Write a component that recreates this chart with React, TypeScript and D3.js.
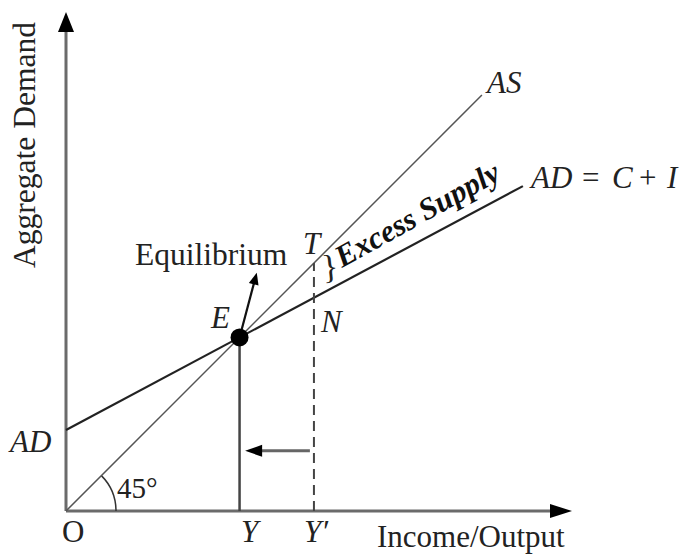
import React from 'react';
import * as d3 from 'd3';

// data in model units (same scale on both axes so AS is the 45 degree line)
const asLine: [number, number][] = [[0, 0], [8.22, 8.22]];
const adLine: [number, number][] = [[0, 1.6], [9.03, 6.42]];
const equilibrium: [number, number] = [3.43, 3.43];
const eqArrowTip: [number, number] = [3.77, 4.71];
const yPrime = 4.9;
const tPoint: [number, number] = [4.9, 4.9];
const shiftArrow: [number, number][] = [[4.82, 1.19], [3.54, 1.19]];
const axisMax = { x: 10, y: 9.86 };

const W = 687;
const H = 554;
const serif = '"Liberation Serif", "Times New Roman", serif';

const x = d3.scaleLinear().domain([0, 10]).range([66, 572]);
const y = d3.scaleLinear().domain([0, 10]).range([511, 5]);

const line = d3.line<[number, number]>().x(d => x(d[0])).y(d => y(d[1]));

// triangle arrowhead with tip at (px,py) pointing along angle a
const head = (px: number, py: number, a: number, len: number, half: number) => {
  const bx = px - len * Math.cos(a);
  const by = py - len * Math.sin(a);
  const nx = -Math.sin(a) * half;
  const ny = Math.cos(a) * half;
  return `${px},${py} ${bx + nx},${by + ny} ${bx - nx},${by - ny}`;
};

const App = () => {
  const [ex, ey] = [x(equilibrium[0]), y(equilibrium[1])];
  const [tx, ty] = [x(eqArrowTip[0]), y(eqArrowTip[1])];
  const ang = Math.atan2(ty - ey, tx - ex);

  const arcPath = d3.path();
  arcPath.arc(x(0), y(0), 50, 0, -Math.PI / 4, true);

  const adAngle = (Math.atan2(y(adLine[1][1]) - y(adLine[0][1]), x(adLine[1][0]) - x(adLine[0][0])) * 180) / Math.PI;

  return (
    <svg width={W} height={H} style={{ position: 'absolute', left: 0, top: 0, background: '#fff' }}
      fontFamily={serif}>
      {/* axes */}
      <line x1={x(0)} y1={y(0)} x2={x(axisMax.x) - 18} y2={y(0)} stroke="#6b6b6b" strokeWidth={3} />
      <line x1={x(0)} y1={y(0)} x2={x(0)} y2={y(axisMax.y) + 16} stroke="#6b6b6b" strokeWidth={3} />
      <polygon points={head(x(axisMax.x), y(0), 0, 22, 7)} fill="#000" />
      <polygon points={head(x(0), y(axisMax.y), -Math.PI / 2, 20, 8)} fill="#000" />

      {/* 45 degree arc */}
      <path d={arcPath.toString()} fill="none" stroke="#333" strokeWidth={1.5} />

      {/* AS and AD */}
      <path d={line(asLine) as string} fill="none" stroke="#555" strokeWidth={1.5} />
      <path d={line(adLine) as string} fill="none" stroke="#222" strokeWidth={2.2} />

      {/* Y and Y' */}
      <line x1={ex} y1={ey} x2={ex} y2={y(0)} stroke="#444" strokeWidth={2.5} />
      <line x1={x(yPrime)} y1={y(0)} x2={x(tPoint[0])} y2={y(tPoint[1])} stroke="#444" strokeWidth={2}
        strokeDasharray="10,6" />

      {/* shift arrow */}
      <line x1={x(shiftArrow[0][0])} y1={y(shiftArrow[0][1])} x2={x(shiftArrow[1][0]) + 14} y2={y(shiftArrow[1][1])}
        stroke="#666" strokeWidth={3} />
      <polygon points={head(x(shiftArrow[1][0]), y(shiftArrow[1][1]), Math.PI, 17, 6)} fill="#000" />

      {/* equilibrium arrow */}
      <line x1={ex} y1={ey} x2={tx - 8 * Math.cos(ang)} y2={ty - 8 * Math.sin(ang)} stroke="#111" strokeWidth={2.2} />
      <polygon points={head(tx, ty, ang, 12, 5)} fill="#000" />
      <circle cx={ex} cy={ey} r={9} fill="#000" />

      {/* labels */}
      <text transform="translate(35,145) rotate(-90)" textAnchor="middle" fontSize={31.5} fill="#222">Aggregate Demand</text>
      <text x={377} y={547} fontSize={31} fill="#222">Income/Output</text>
      <text x={62} y={542} fontSize={31} fill="#222">O</text>
      <text x={241} y={542} fontSize={31} fontStyle="italic" fill="#222">Y</text>
      <text x={304} y={542} fontSize={31} fontStyle="italic" fill="#222">Y′</text>
      <text x={10} y={452} fontSize={31} fontStyle="italic" fill="#222">AD</text>
      <text x={117} y={498} fontSize={29} fill="#222">45°</text>
      <text x={135} y={265} fontSize={31.5} fill="#222">Equilibrium</text>
      <text x={211} y={328} fontSize={31} fontStyle="italic" fill="#222">E</text>
      <text x={303} y={254} fontSize={31} fontStyle="italic" fill="#222">T</text>
      <text x={321} y={332} fontSize={31} fontStyle="italic" fill="#222">N</text>
      <text x={487} y={93} fontSize={31} fontStyle="italic" fill="#222">AS</text>
      <g fontSize={31} fill="#222">
        <text x={531} y={188} fontStyle="italic">AD</text>
        <text x={582} y={188}>=</text>
        <text x={612} y={188} fontStyle="italic">C</text>
        <text x={639} y={188}>+</text>
        <text x={667} y={188} fontStyle="italic">I</text>
      </g>
      <text transform="translate(323,279) rotate(-6)" fontSize={34} fill="#222">{'}'}</text>
      <text transform={`translate(342,268) rotate(${adAngle - 1})`} fontSize={31} fontWeight="bold"
        fontStyle="italic" fill="#111">Excess Supply</text>
    </svg>
  );
};

export default App;
